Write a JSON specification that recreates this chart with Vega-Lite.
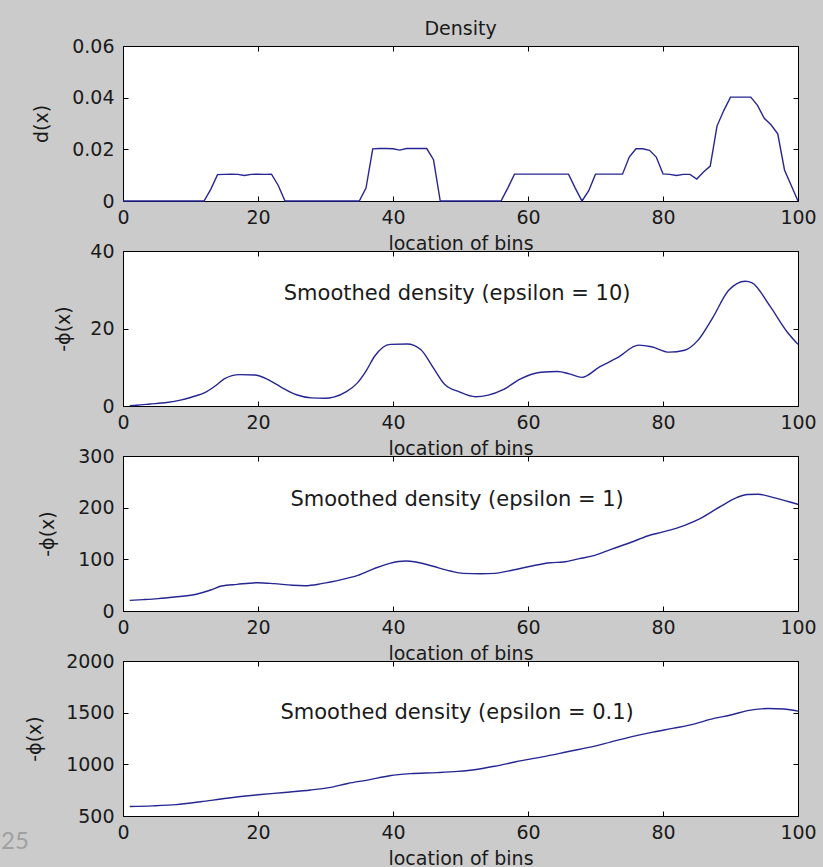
{
  "$schema": "https://vega.github.io/schema/vega-lite/v6.json",
  "background": "#cbcbcb",
  "padding": {"left": 0, "top": 19, "right": 30, "bottom": 30},
  "bounds": "flush",
  "spacing": 50,
  "datasets": {
    "d1": [
      {"x":0,"y":0},{"x":1,"y":0},{"x":2,"y":0},{"x":3,"y":0},{"x":4,"y":0},{"x":5,"y":0},{"x":6,"y":0},{"x":7,"y":0},{"x":8,"y":0},{"x":9,"y":0},{"x":10,"y":0},{"x":11,"y":0},{"x":12,"y":0},
      {"x":13,"y":0.0045},{"x":14,"y":0.0102},{"x":15,"y":0.0103},{"x":16,"y":0.0104},{"x":17,"y":0.0103},{"x":18,"y":0.0099},{"x":19,"y":0.0103},{"x":20,"y":0.0104},{"x":21,"y":0.0103},{"x":22,"y":0.0104},{"x":23,"y":0.006},{"x":24,"y":0},
      {"x":25,"y":0},{"x":26,"y":0},{"x":27,"y":0},{"x":28,"y":0},{"x":29,"y":0},{"x":30,"y":0},{"x":31,"y":0},{"x":32,"y":0},{"x":33,"y":0},{"x":34,"y":0},{"x":35,"y":0},
      {"x":36,"y":0.005},{"x":37,"y":0.0202},{"x":38,"y":0.0203},{"x":39,"y":0.0203},{"x":40,"y":0.0202},{"x":41,"y":0.0197},{"x":42,"y":0.0203},{"x":43,"y":0.0203},{"x":44,"y":0.0203},{"x":45,"y":0.0203},{"x":46,"y":0.016},{"x":47,"y":0},
      {"x":48,"y":0},{"x":49,"y":0},{"x":50,"y":0},{"x":51,"y":0},{"x":52,"y":0},{"x":53,"y":0},{"x":54,"y":0},{"x":55,"y":0},{"x":56,"y":0},
      {"x":57,"y":0.005},{"x":58,"y":0.0104},{"x":59,"y":0.0104},{"x":60,"y":0.0104},{"x":61,"y":0.0104},{"x":62,"y":0.0104},{"x":63,"y":0.0104},{"x":64,"y":0.0104},{"x":65,"y":0.0104},{"x":66,"y":0.0104},{"x":67,"y":0.005},{"x":68,"y":0},
      {"x":69,"y":0.004},{"x":70,"y":0.0104},{"x":71,"y":0.0104},{"x":72,"y":0.0104},{"x":73,"y":0.0104},{"x":74,"y":0.0104},{"x":75,"y":0.017},{"x":76,"y":0.0202},{"x":77,"y":0.0202},{"x":78,"y":0.0196},{"x":79,"y":0.017},{"x":80,"y":0.0105},
      {"x":81,"y":0.0103},{"x":82,"y":0.0099},{"x":83,"y":0.0103},{"x":84,"y":0.0103},{"x":85,"y":0.0085},{"x":86,"y":0.0112},{"x":87,"y":0.0135},{"x":88,"y":0.029},{"x":89,"y":0.035},{"x":90,"y":0.0402},
      {"x":91,"y":0.0402},{"x":92,"y":0.0402},{"x":93,"y":0.0402},{"x":94,"y":0.037},{"x":95,"y":0.032},{"x":96,"y":0.0295},{"x":97,"y":0.026},{"x":98,"y":0.012},{"x":99,"y":0.006},{"x":100,"y":0}
    ],
    "d2": [
      {"x":1,"y":0.1},{"x":2,"y":0.2},{"x":4,"y":0.5},{"x":6.5,"y":0.9},{"x":8.5,"y":1.5},{"x":10,"y":2.2},{"x":12.4,"y":3.7},{"x":14,"y":5.6},{"x":15,"y":7.0},{"x":17.3,"y":8.1},{"x":19.5,"y":8.0},{"x":21.5,"y":6.8},{"x":23.4,"y":4.9},{"x":25.7,"y":2.9},{"x":27.9,"y":2.1},{"x":29.9,"y":2.0},{"x":31.2,"y":2.3},{"x":33.1,"y":3.7},{"x":34.7,"y":5.9},{"x":36,"y":9.0},{"x":37.3,"y":12.9},{"x":39.6,"y":15.9},{"x":42.1,"y":16.0},{"x":44.1,"y":14.6},{"x":46,"y":9.8},{"x":47.6,"y":5.7},{"x":49.9,"y":3.6},{"x":52.2,"y":2.4},{"x":54.1,"y":2.8},{"x":56.4,"y":4.3},{"x":58.9,"y":7.0},{"x":61.9,"y":8.7},{"x":64.4,"y":8.9},{"x":66.1,"y":8.3},{"x":68,"y":7.4},{"x":70.6,"y":10.1},{"x":73.2,"y":12.4},{"x":76.4,"y":15.7},{"x":78.3,"y":15.3},{"x":80.9,"y":13.9},{"x":83.2,"y":14.4},{"x":85.1,"y":16.8},{"x":87.4,"y":22.9},{"x":89.7,"y":29.8},{"x":92.2,"y":32.2},{"x":93.2,"y":31.8},{"x":95.8,"y":25.9},{"x":98.4,"y":19.1},{"x":100,"y":15.9}
    ],
    "d3": [
      {"x":1,"y":20.6},{"x":3,"y":22},{"x":5.2,"y":23.9},{"x":7.6,"y":27},{"x":10.7,"y":32},{"x":13,"y":40.6},{"x":14.6,"y":48.4},{"x":16.9,"y":51.6},{"x":20,"y":54.8},{"x":22.4,"y":52.9},{"x":25.1,"y":49.7},{"x":27,"y":49},{"x":29.4,"y":52.9},{"x":32.5,"y":61.3},{"x":34.8,"y":69},{"x":37.2,"y":82},{"x":39.5,"y":92.3},{"x":41.9,"y":96.8},{"x":43.4,"y":94.8},{"x":45.8,"y":87},{"x":48.5,"y":77.4},{"x":50.4,"y":72.9},{"x":53,"y":72},{"x":55.1,"y":72.9},{"x":57.8,"y":79.4},{"x":60.6,"y":87.1},{"x":63.3,"y":93.5},{"x":65.2,"y":94.8},{"x":67.6,"y":101.3},{"x":69.9,"y":107.7},{"x":72.3,"y":119.4},{"x":75.4,"y":133.5},{"x":77.7,"y":145.2},{"x":80,"y":153},{"x":83.2,"y":165.8},{"x":85.5,"y":178.7},{"x":88.6,"y":203},{"x":91,"y":220},{"x":92.5,"y":225.5},{"x":94.1,"y":226},{"x":96.4,"y":219.4},{"x":98.8,"y":211},{"x":100,"y":206.5}
    ],
    "d4": [
      {"x":1,"y":592},{"x":4.4,"y":598},{"x":7.9,"y":610},{"x":11.5,"y":638},{"x":15.4,"y":672},{"x":20,"y":705},{"x":23.9,"y":728},{"x":27.8,"y":752},{"x":30.5,"y":775},{"x":33.3,"y":815},{"x":36.4,"y":850},{"x":39.5,"y":890},{"x":42.6,"y":910},{"x":46.5,"y":920},{"x":49.6,"y":932},{"x":52.3,"y":950},{"x":55.1,"y":982},{"x":58.2,"y":1025},{"x":62.1,"y":1072},{"x":66,"y":1124},{"x":69.9,"y":1176},{"x":72.2,"y":1215},{"x":75.4,"y":1268},{"x":78.5,"y":1312},{"x":81.6,"y":1350},{"x":84.7,"y":1392},{"x":87,"y":1435},{"x":90.2,"y":1480},{"x":92.5,"y":1520},{"x":95.6,"y":1540},{"x":97.9,"y":1535},{"x":100,"y":1515}
    ],
    "one": [{}]
  },
  "vconcat": [
    {
      "width": 675, "height": 155,
      "title": {"text": "Density", "offset": -17, "baseline": "alphabetic", "fontSize": 19},
      "data": {"name": "d1"},
      "layer": [
        {"mark": {"type": "line", "color": "#262693", "strokeWidth": 1.4},
         "encoding": {
           "x": {"field": "x", "type": "quantitative", "scale": {"domain": [0, 100], "nice": false}, "axis": {"orient": "bottom", "values": [0,20,40,60,80,100], "title": "location of bins"}},
           "y": {"field": "y", "type": "quantitative", "scale": {"domain": [0, 0.06], "nice": false, "zero": false}, "axis": {"orient": "left", "values": [0,0.02,0.04,0.06], "format": ".2~f", "title": "d(x)", "titlePadding": 20}}
         }},
        {"mark": {"type": "line", "opacity": 0},
         "encoding": {
           "x": {"field": "x", "type": "quantitative", "axis": {"orient": "top", "values": [0,20,40,60,80,100], "labels": false, "title": null}},
           "y": {"field": "y", "type": "quantitative", "axis": {"orient": "right", "values": [0,0.02,0.04,0.06], "labels": false, "title": null}}
         }}
      ],
      "resolve": {"axis": {"x": "independent", "y": "independent"}}
    },
    {
      "width": 675, "height": 155,
      "data": {"name": "d2"},
      "layer": [
        {"mark": {"type": "line", "color": "#262693", "strokeWidth": 1.4, "interpolate": "monotone"},
         "encoding": {
           "x": {"field": "x", "type": "quantitative", "scale": {"domain": [0, 100], "nice": false}, "axis": {"orient": "bottom", "values": [0,20,40,60,80,100], "title": "location of bins"}},
           "y": {"field": "y", "type": "quantitative", "scale": {"domain": [0, 40], "nice": false, "zero": false}, "axis": {"orient": "left", "values": [0,20,40], "title": "-ϕ(x)", "titlePadding": 16}}
         }},
        {"mark": {"type": "line", "opacity": 0},
         "encoding": {
           "x": {"field": "x", "type": "quantitative", "axis": {"orient": "top", "values": [0,20,40,60,80,100], "labels": false, "title": null}},
           "y": {"field": "y", "type": "quantitative", "axis": {"orient": "right", "values": [0,20,40], "labels": false, "title": null}}
         }},
        {"data": {"name": "one"},
         "mark": {"type": "text", "font": "DejaVu Sans", "fontSize": 21, "color": "#1a1a1a", "align": "center", "baseline": "middle"},
         "encoding": {
           "x": {"datum": 49.5, "type": "quantitative", "axis": null},
           "y": {"datum": 29, "type": "quantitative", "axis": null},
           "text": {"value": "Smoothed density (epsilon = 10)"}
         }}
      ],
      "resolve": {"axis": {"x": "independent", "y": "independent"}}
    },
    {
      "width": 675, "height": 155,
      "data": {"name": "d3"},
      "layer": [
        {"mark": {"type": "line", "color": "#262693", "strokeWidth": 1.4, "interpolate": "monotone"},
         "encoding": {
           "x": {"field": "x", "type": "quantitative", "scale": {"domain": [0, 100], "nice": false}, "axis": {"orient": "bottom", "values": [0,20,40,60,80,100], "title": "location of bins"}},
           "y": {"field": "y", "type": "quantitative", "scale": {"domain": [0, 300], "nice": false, "zero": false}, "axis": {"orient": "left", "values": [0,100,200,300], "title": "-ϕ(x)", "titlePadding": 20}}
         }},
        {"mark": {"type": "line", "opacity": 0},
         "encoding": {
           "x": {"field": "x", "type": "quantitative", "axis": {"orient": "top", "values": [0,20,40,60,80,100], "labels": false, "title": null}},
           "y": {"field": "y", "type": "quantitative", "axis": {"orient": "right", "values": [0,100,200,300], "labels": false, "title": null}}
         }},
        {"data": {"name": "one"},
         "mark": {"type": "text", "font": "DejaVu Sans", "fontSize": 21, "color": "#1a1a1a", "align": "center", "baseline": "middle"},
         "encoding": {
           "x": {"datum": 49.5, "type": "quantitative", "axis": null},
           "y": {"datum": 215, "type": "quantitative", "axis": null},
           "text": {"value": "Smoothed density (epsilon = 1)"}
         }}
      ],
      "resolve": {"axis": {"x": "independent", "y": "independent"}}
    },
    {
      "width": 675, "height": 155,
      "data": {"name": "d4"},
      "layer": [
        {"mark": {"type": "line", "color": "#262693", "strokeWidth": 1.4, "interpolate": "monotone"},
         "encoding": {
           "x": {"field": "x", "type": "quantitative", "scale": {"domain": [0, 100], "nice": false}, "axis": {"orient": "bottom", "values": [0,20,40,60,80,100], "title": "location of bins"}},
           "y": {"field": "y", "type": "quantitative", "scale": {"domain": [500, 2000], "nice": false, "zero": false}, "axis": {"orient": "left", "values": [500,1000,1500,2000], "format": "d", "title": "-ϕ(x)", "titlePadding": 21}}
         }},
        {"mark": {"type": "line", "opacity": 0},
         "encoding": {
           "x": {"field": "x", "type": "quantitative", "axis": {"orient": "top", "values": [0,20,40,60,80,100], "labels": false, "title": null}},
           "y": {"field": "y", "type": "quantitative", "axis": {"orient": "right", "values": [500,1000,1500,2000], "labels": false, "title": null}}
         }},
        {"data": {"name": "one"},
         "mark": {"type": "text", "font": "DejaVu Sans", "fontSize": 21, "color": "#1a1a1a", "align": "center", "baseline": "middle"},
         "encoding": {
           "x": {"datum": 49.5, "type": "quantitative", "axis": null},
           "y": {"datum": 1500, "type": "quantitative", "axis": null},
           "text": {"value": "Smoothed density (epsilon = 0.1)"}
         }},
        {"data": {"name": "one"},
         "mark": {"type": "text", "font": "Lato", "fontSize": 24, "color": "#a0a0a0", "align": "left", "baseline": "middle"},
         "encoding": {
           "x": {"datum": -18.07, "type": "quantitative", "axis": null},
           "y": {"datum": 249, "type": "quantitative", "axis": null},
           "text": {"value": "25"}
         }}
      ],
      "resolve": {"axis": {"x": "independent", "y": "independent"}}
    }
  ],
  "config": {
    "view": {"stroke": "#000000", "strokeWidth": 1, "fill": "#ffffff"},
    "axis": {
      "grid": false, "domain": false, "tickColor": "#000000", "tickSize": -5, "tickWidth": 1,
      "labelFont": "DejaVu Sans", "labelFontSize": 19, "labelColor": "#1a1a1a",
      "titleFont": "DejaVu Sans", "titleFontSize": 19, "titleFontWeight": "normal", "titleColor": "#1a1a1a",
      "labelOverlap": false, "labelFlush": false, "labelBound": false
    },
    "axisX": {"labelPadding": 12, "titlePadding": 7},
    "axisY": {"labelPadding": 14},
    "title": {"font": "DejaVu Sans", "fontSize": 19, "fontWeight": "normal", "color": "#1a1a1a"}
  }
}
